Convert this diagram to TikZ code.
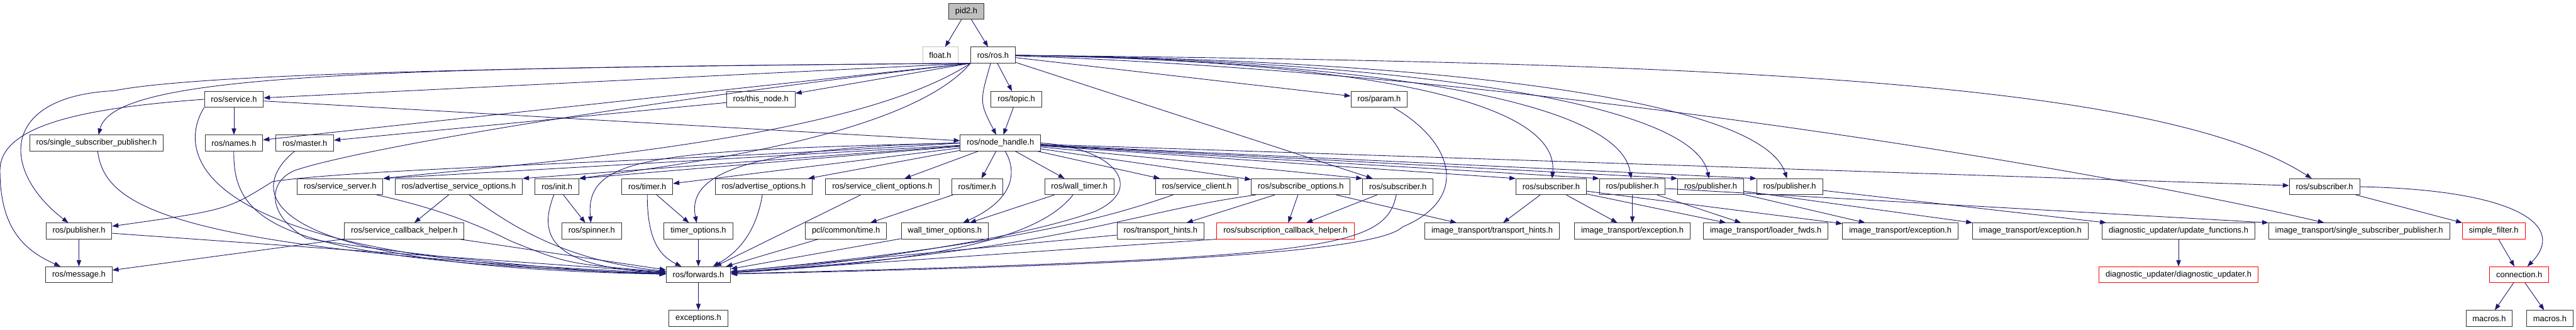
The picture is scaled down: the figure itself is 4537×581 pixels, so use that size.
\documentclass[tikz,border=0pt]{standalone}
\usepackage{fontspec}
\setmainfont{Liberation Sans}
\usepackage{tikz}
\usetikzlibrary{arrows.meta,positioning}
\definecolor{EdgeBlue}{HTML}{191970}
\definecolor{BoxGray}{HTML}{333333}
\definecolor{RootGray}{HTML}{BFBFBF}
\definecolor{MissRed}{HTML}{FF0000}
\newcommand{\depfont}{\fontsize{14.3}{17}\selectfont}
\tikzset{
    % Base file box
    filenode/.style={
        draw=BoxGray,
        fill=white,
        line width=1pt,
        minimum height=28pt,
        inner xsep=11.5pt,
        inner ysep=0pt,
        font=\depfont
    },
    % Documented file itself
    rootnode/.style={
        filenode,
        fill=RootGray
    },
    % System header
    sysnode/.style={
        filenode,
        draw=RootGray
    },
    % Truncated graph
    truncnode/.style={
        filenode,
        draw=MissRed
    },
    % Include arrow
    dep/.style={
        -{Triangle[length=11pt,width=8pt]},
        line width=1pt,
        draw=EdgeBlue
    }
}
\begin{document}
\begin{tikzpicture}[x=1pt,y=-1pt]
    \useasboundingbox (0,0) rectangle (4537,581);

    % Level 0 and 1
    \node[rootnode] (pid) at (1702,20) {pid2.h};
    \node[sysnode] (float) at (1656,97) {float.h};
    \node[filenode] (ros) at (1749,97) {ros/ros.h};

    % Level 2
    \node[filenode] (service) at (412,175) {ros/service.h};
    \node[filenode] (thisnode) at (1340,175) {ros/this\_node.h};
    \node[filenode] (topic) at (1790,175) {ros/topic.h};
    \node[filenode] (param) at (2429,175) {ros/param.h};

    % Level 3
    \node[filenode] (ssp) at (170,252) {ros/single\_subscriber\_publisher.h};
    \node[filenode] (names) at (412,252) {ros/names.h};
    \node[filenode] (master) at (537,252) {ros/master.h};
    \node[filenode] (nh) at (1762,252) {ros/node\_handle.h};

    % Level 4
    \node[filenode] (ssrv) at (599,329) {ros/service\_server.h};
    \node[filenode] (aso) at (808,329) {ros/advertise\_service\_options.h};
    \node[filenode] (init) at (981,329) {ros/init.h};
    \node[filenode] (timera) at (1140,329) {ros/timer.h};
    \node[filenode] (ao) at (1345,329) {ros/advertise\_options.h};
    \node[filenode] (sco) at (1554,329) {ros/service\_client\_options.h};
    \node[filenode] (timerb) at (1721,329) {ros/timer.h};
    \node[filenode] (wtimer) at (1901,329) {ros/wall\_timer.h};
    \node[filenode] (sclient) at (2108,329) {ros/service\_client.h};
    \node[filenode] (subopt) at (2291,329) {ros/subscribe\_options.h};
    \node[filenode] (suba) at (2462,329) {ros/subscriber.h};
    \node[filenode] (subb) at (2732,329) {ros/subscriber.h};
    \node[filenode] (puba) at (2875,329) {ros/publisher.h};
    \node[filenode] (pubb) at (3013,329) {ros/publisher.h};
    \node[filenode] (pubc) at (3152,329) {ros/publisher.h};
    \node[filenode] (subc) at (4094,329) {ros/subscriber.h};

    % Level 5
    \node[filenode] (publ) at (139,407) {ros/publisher.h};
    \node[filenode] (sch) at (712,407) {ros/service\_callback\_helper.h};
    \node[filenode] (spinner) at (1042,407) {ros/spinner.h};
    \node[filenode] (topt) at (1230,407) {timer\_options.h};
    \node[filenode] (pcltime) at (1490,407) {pcl/common/time.h};
    \node[filenode] (wtopt) at (1664,407) {wall\_timer\_options.h};
    \node[filenode] (rth) at (2044,407) {ros/transport\_hints.h};
    \node[truncnode] (subcb) at (2264,407) {ros/subscription\_callback\_helper.h};
    \node[filenode] (ith) at (2628,407) {image\_transport/transport\_hints.h};
    \node[filenode] (iexa) at (2875,407) {image\_transport/exception.h};
    \node[filenode] (iload) at (3110,407) {image\_transport/loader\_fwds.h};
    \node[filenode] (iexb) at (3347,407) {image\_transport/exception.h};
    \node[filenode] (iexc) at (3576,407) {image\_transport/exception.h};
    \node[filenode] (upd) at (3837,407) {diagnostic\_updater/update\_functions.h};
    \node[filenode] (itssp) at (4155,407) {image\_transport/single\_subscriber\_publisher.h};
    \node[truncnode] (sfilter) at (4392,407) {simple\_filter.h};

    % Level 6 and 7
    \node[filenode] (message) at (139,484) {ros/message.h};
    \node[filenode] (fwd) at (1230,484) {ros/forwards.h};
    \node[truncnode] (diag) at (3837,484) {diagnostic\_updater/diagnostic\_updater.h};
    \node[truncnode] (conn) at (4437,484) {connection.h};
    \node[filenode] (exc) at (1230,561) {exceptions.h};
    \node[filenode] (macra) at (4384,561) {macros.h};
    \node[filenode] (macrb) at (4491,561) {macros.h};

    % Arrows from the top
    \draw[dep] (pid) -- (float);
    \draw[dep] (pid) -- (ros);
    \draw[dep] (ros) -- (topic);
    \draw[dep] (ros) .. controls (1725,180) .. (nh);
    \draw[dep] (topic) -- (nh);
    \draw[dep] (ros.south west) -- (service);
    \draw[dep] (ros.south west) -- (thisnode);
    \draw[dep] (ros.south west) -- (names);
    \draw[dep] (ros) -- (param);
    \draw[dep] (thisnode) -- (master);
    \draw[dep] (ros.south west) .. controls (650,120) and (200,130) .. (ssp);
    \draw[dep] (ros.south west) .. controls (900,118) and (350,130) .. (200,160) .. controls (0,170) and (0,300) .. (publ);
    \draw[dep] (ros.south west) .. controls (1500,250) and (900,290) .. (ssrv.north east);
    \draw[dep] (ros.south west) .. controls (1600,240) and (1200,290) .. (init.north east);
    \draw[dep] (ros) -- (suba);
    \draw[dep] (ros) .. controls (2300,105) and (2750,160) .. (subb);
    \draw[dep] (ros) .. controls (2300,105) and (2850,160) .. (puba);
    \draw[dep] (ros) .. controls (2400,105) and (2980,170) .. (pubb);
    \draw[dep] (ros) .. controls (2500,105) and (3100,170) .. (pubc);
    \draw[dep] (ros) .. controls (3000,110) and (3800,140) .. (subc);
    \draw[dep] (ros) .. controls (2700,130) and (3700,300) .. (itssp);
    \draw[dep] (service) -- (names);
    \draw[dep] (service) -- (nh);
    \draw[dep] (service.west) .. controls (150,190) and (0,220) .. (0,300) .. controls (0,400) and (40,440) .. (message);

    % Arrows from the node handle
    \draw[dep] (nh) -- (ssrv.north east);
    \draw[dep] (nh) -- (aso.north east);
    \draw[dep] (nh) -- (init.north east);
    \draw[dep] (nh) -- (timera);
    \draw[dep] (nh) -- (ao);
    \draw[dep] (nh) -- (sco);
    \draw[dep] (nh) -- (timerb);
    \draw[dep] (nh) -- (wtimer);
    \draw[dep] (nh) -- (sclient);
    \draw[dep] (nh) -- (subopt);
    \draw[dep] (nh) -- (suba.north west);
    \draw[dep] (nh) -- (subb.north west);
    \draw[dep] (nh) -- (puba.north west);
    \draw[dep] (nh) -- (pubb.north west);
    \draw[dep] (nh) -- (pubc.north west);
    \draw[dep] (nh) -- (subc);
    \draw[dep] (nh.west) .. controls (1200,285) and (650,295) .. (480,320) .. controls (400,370) .. (publ);
    \draw[dep] (nh.west) .. controls (1150,265) and (1030,275) .. (spinner);
    \draw[dep] (nh.west) .. controls (1300,260) and (1210,310) .. (topt);
    \draw[dep] (nh) .. controls (1790,300) and (1790,350) .. (wtopt);

    % Lower levels
    \draw[dep] (aso) -- (sch);
    \draw[dep] (sch) -- (message);
    \draw[dep] (publ) -- (message);
    \draw[dep] (init) -- (spinner);
    \draw[dep] (timera) -- (topt);
    \draw[dep] (timerb) -- (pcltime);
    \draw[dep] (wtimer) -- (wtopt);
    \draw[dep] (subopt) -- (rth);
    \draw[dep] (subopt) -- (subcb);
    \draw[dep] (subopt) -- (ith);
    \draw[dep] (suba) -- (subcb);
    \draw[dep] (subb) -- (ith);
    \draw[dep] (subb) -- (iexa);
    \draw[dep] (subb) -- (iload);
    \draw[dep] (subb) -- (iexb);
    \draw[dep] (puba) -- (iexa);
    \draw[dep] (puba) -- (iload);
    \draw[dep] (puba) -- (itssp.north west);
    \draw[dep] (pubb) -- (iexb);
    \draw[dep] (pubb) -- (iexc.north west);
    \draw[dep] (pubc) -- (upd);
    \draw[dep] (upd) -- (diag);
    \draw[dep] (subc) -- (sfilter);
    \draw[dep] (subc.east) .. controls (4440,335) and (4520,400) .. (conn);
    \draw[dep] (sfilter) -- (conn);
    \draw[dep] (conn) -- (macra);
    \draw[dep] (conn) -- (macrb);
    \draw[dep] (fwd) -- (exc);

    % Into forwards
    \draw[dep] (ssp) .. controls (185,360) and (280,440) .. (fwd);
    \draw[dep] (service.south west) .. controls (310,270) and (330,460) .. (fwd);
    \draw[dep] (names) .. controls (410,400) and (500,460) .. (fwd);
    \draw[dep] (master) .. controls (440,330) and (420,470) .. (fwd);
    \draw[dep] (ros.south west) .. controls (1150,175) and (640,260) .. (520,300) .. controls (470,320) and (470,380) .. (540,420) .. controls (650,440) and (1000,480) .. (fwd);
    \draw[dep] (publ) -- (fwd);
    \draw[dep] (sch) -- (fwd);
    \draw[dep] (ssrv) .. controls (760,365) and (830,390) .. (900,425) .. controls (1000,465) .. (fwd);
    \draw[dep] (aso) .. controls (900,400) and (1000,460) .. (fwd);
    \draw[dep] (init) .. controls (950,410) and (960,470) .. (fwd);
    \draw[dep] (timera) .. controls (1140,420) and (1160,450) .. (fwd);
    \draw[dep] (topt) -- (fwd);
    \draw[dep] (ao) .. controls (1330,420) and (1290,450) .. (fwd);
    \draw[dep] ([xshift=62pt]sco.south west) -- (fwd);
    \draw[dep] (pcltime) -- (fwd);
    \draw[dep] (wtopt) -- (fwd);
    \draw[dep] (wtimer) .. controls (1830,420) and (1650,460) .. (fwd);
    \draw[dep] (nh.east) .. controls (1960,260) and (2020,330) .. (1930,372) .. controls (1800,420) and (1500,465) .. (fwd);
    \draw[dep] (sclient) .. controls (1960,380) and (1800,430) .. (fwd);
    \draw[dep] ([xshift=8pt]subopt.south west) .. controls (1980,375) and (1880,440) .. (fwd);
    \draw[dep] (rth) -- (fwd);
    \draw[dep] (subcb.south west) -- (fwd);
    \draw[dep] (suba) .. controls (2440,440) and (2330,455) .. (fwd);
    \draw[dep] (param) .. controls (2560,250) and (2590,350) .. (2470,400) .. controls (2420,450) and (1900,470) .. (fwd);
\end{tikzpicture}
\end{document}
